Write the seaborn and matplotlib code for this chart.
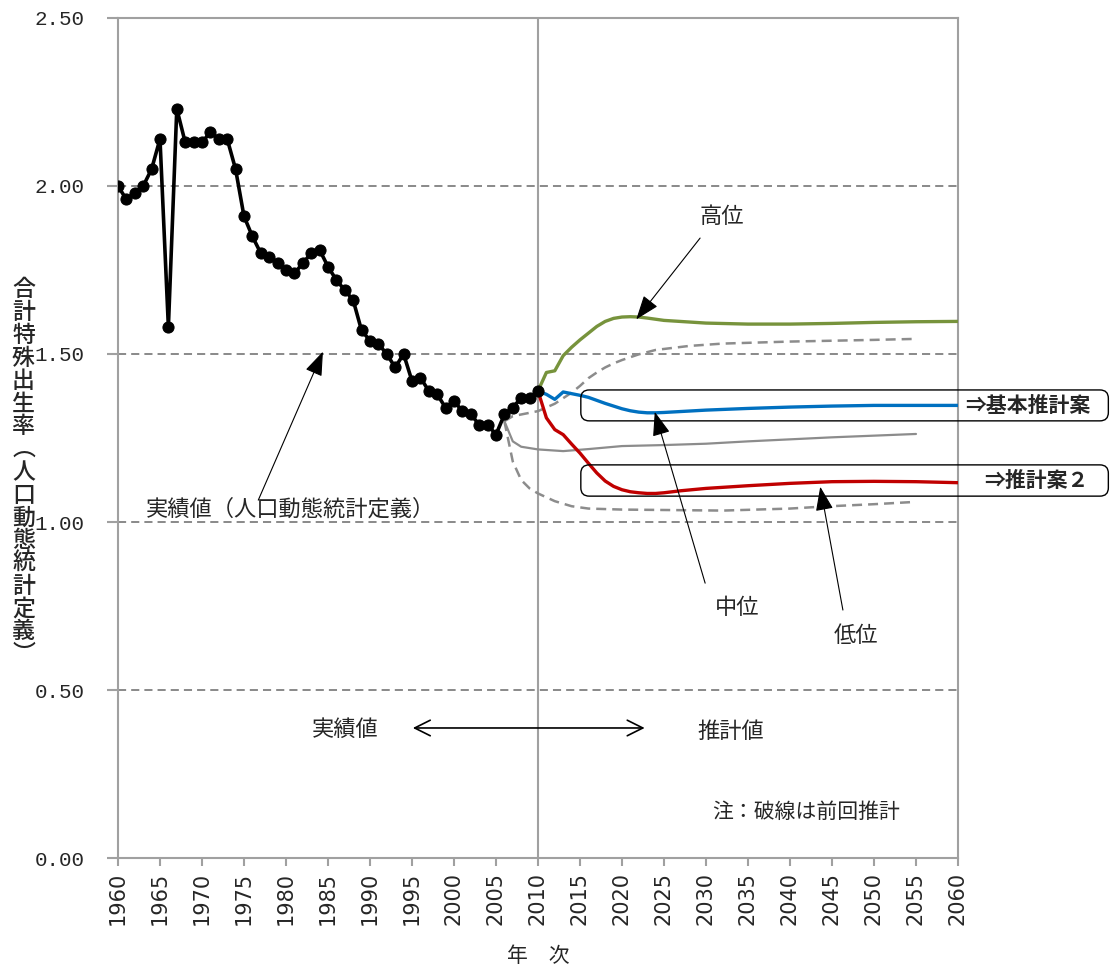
import numpy as np
import pandas as pd
import seaborn as sns
import matplotlib.pyplot as plt
from matplotlib.patches import FancyBboxPatch

# 実績値（人口動態統計定義）
act_years = list(range(1960, 2011))
act_tfr = [2.00, 1.96, 1.98, 2.00, 2.05, 2.14, 1.58, 2.23, 2.13, 2.13,
           2.13, 2.16, 2.14, 2.14, 2.05, 1.91, 1.85, 1.80, 1.79, 1.77,
           1.75, 1.74, 1.77, 1.80, 1.81, 1.76, 1.72, 1.69, 1.66, 1.57,
           1.54, 1.53, 1.50, 1.46, 1.50, 1.42, 1.43, 1.39, 1.38, 1.34,
           1.36, 1.33, 1.32, 1.29, 1.29, 1.26, 1.32, 1.34, 1.37, 1.37, 1.39]

# 今回推計
high_years = [2010, 2011, 2012, 2013, 2014, 2015, 2016, 2017, 2018, 2019,
              2020, 2021, 2022, 2023, 2025, 2030, 2035, 2040, 2045, 2050, 2055, 2060]
high_tfr = [1.39, 1.445, 1.45, 1.495, 1.52, 1.542, 1.562, 1.582, 1.597, 1.606,
            1.61, 1.611, 1.61, 1.607, 1.60, 1.592, 1.589, 1.589, 1.591, 1.594, 1.596, 1.597]
mid_years = [2010, 2011, 2012, 2013, 2014, 2015, 2016, 2017, 2018, 2019,
             2020, 2021, 2022, 2023, 2024, 2025, 2030, 2035, 2040, 2045, 2050, 2055, 2060]
mid_tfr = [1.39, 1.38, 1.365, 1.387, 1.382, 1.377, 1.371, 1.362, 1.353, 1.345,
           1.337, 1.331, 1.327, 1.325, 1.325, 1.326, 1.333, 1.338, 1.342, 1.345, 1.347, 1.347, 1.347]
low_years = [2010, 2011, 2012, 2013, 2014, 2015, 2016, 2017, 2018, 2019,
             2020, 2021, 2022, 2023, 2024, 2025, 2027, 2030, 2035, 2040, 2045, 2050, 2055, 2060]
low_tfr = [1.39, 1.31, 1.275, 1.26, 1.232, 1.205, 1.175, 1.146, 1.122, 1.106,
           1.096, 1.090, 1.087, 1.085, 1.085, 1.087, 1.093, 1.100, 1.108, 1.115, 1.12, 1.121, 1.12, 1.117]

# 前回推計（破線・細線）
prev_mid_years = [2006, 2007, 2008, 2010, 2013, 2016, 2020, 2025, 2030, 2035,
                  2040, 2045, 2050, 2055]
prev_mid_tfr = [1.30, 1.24, 1.224, 1.216, 1.211, 1.217, 1.226, 1.229, 1.233, 1.240,
                1.246, 1.252, 1.257, 1.262]
prev_high_years = [2006, 2007, 2010, 2012, 2014, 2015, 2016, 2017, 2018, 2019,
                   2020, 2022, 2024, 2028, 2032, 2040, 2044, 2050, 2055]
prev_high_tfr = [1.30, 1.315, 1.33, 1.352, 1.385, 1.405, 1.428, 1.445, 1.46, 1.472,
                 1.482, 1.499, 1.512, 1.524, 1.531, 1.537, 1.539, 1.542, 1.545]
prev_low_years = [2006, 2007, 2008, 2009, 2010, 2012, 2014, 2016, 2020, 2024,
                  2032, 2040, 2044, 2050, 2055]
prev_low_tfr = [1.30, 1.18, 1.125, 1.10, 1.085, 1.062, 1.047, 1.040, 1.037, 1.036,
                1.034, 1.040, 1.046, 1.053, 1.06]

base_year = 2010
x_ticks = list(range(1960, 2061, 5))
y_ticks = [0.0, 0.5, 1.0, 1.5, 2.0, 2.5]
ylabel_chars = list('合計特殊出生率') + ['︵'] + list('人口動態統計定義') + ['︶']

sns.set_theme(style='white')
plt.rcParams['font.family'] = ['Noto Sans CJK JP', 'DejaVu Sans']

fig = plt.figure(figsize=(11.12, 9.67), dpi=100)
ax = fig.add_axes([0.1061, 0.1127, 0.7554, 0.8687])

ax.axvline(base_year, color='#a0a0a0', lw=1.5, zorder=1)

grey = '#8c8c8c'
dash = (0, (4, 2.4))
sns.lineplot(x=prev_high_years, y=prev_high_tfr, color=grey, lw=1.8, linestyle=dash, ax=ax, zorder=2)
sns.lineplot(x=prev_low_years, y=prev_low_tfr, color=grey, lw=1.8, linestyle=dash, ax=ax, zorder=2)
sns.lineplot(x=prev_mid_years, y=prev_mid_tfr, color=grey, lw=1.6, ax=ax, zorder=2)

sns.lineplot(x=high_years, y=high_tfr, color='#77933c', lw=2.4, ax=ax, zorder=3)
sns.lineplot(x=mid_years, y=mid_tfr, color='#0070c0', lw=2.4, ax=ax, zorder=3)
sns.lineplot(x=low_years, y=low_tfr, color='#c00000', lw=2.4, ax=ax, zorder=3)

df_act = pd.DataFrame({'year': act_years, 'tfr': act_tfr})
sns.lineplot(data=df_act, x='year', y='tfr', color='black', lw=2.6, marker='o',
             markersize=8, markeredgecolor='black', ax=ax, zorder=5)

ax.set_xlim(1960, 2060)
ax.set_ylim(0, 2.5)
ax.set_xticks(x_ticks)
ax.set_xticklabels([str(y) for y in x_ticks], rotation=90, family='DejaVu Sans', fontsize=15)
ax.set_yticks(y_ticks)
ax.set_yticklabels([f'{v:.2f}' for v in y_ticks], family='Liberation Mono', fontsize=15)
ax.tick_params(axis='y', left=True, direction='out', length=8, width=1.5, color='#a0a0a0', pad=16)
ax.tick_params(axis='x', bottom=True, direction='out', length=6, width=1.5, color='#a0a0a0', pad=4)
ax.set_xlabel('年　次', fontsize=15, labelpad=14)
ax.set_ylabel('')
for s in ax.spines.values():
    s.set_color('#a0a0a0')
    s.set_linewidth(1.5)
ax.set_axisbelow(True)
ax.grid(axis='y', linestyle=(0, (4.5, 2.8)), color='#808080', lw=1.3)
ax.grid(axis='x', visible=False)

# 縦書きの軸ラベル
for i, ch in enumerate(ylabel_chars):
    fig.text(0.0211, 1 - (290 + i * 22.8) / 967, ch, ha='center', va='center',
             fontsize=16.5, fontweight='medium')

# 注記と矢印
head = '-|>,head_length=0.6,head_width=0.22'
ax.text(2031.9, 1.908, '高位', fontsize=16, ha='center', va='center')
ax.annotate('', xy=(2021.7, 1.603), xytext=(2029.3, 1.845),
            arrowprops=dict(arrowstyle=head, color='black', lw=0.8, mutation_scale=25, shrinkA=0, shrinkB=0))
ax.text(1980.5, 1.039, '実績値（人口動態統計定義）', fontsize=16, ha='center', va='center')
ax.annotate('', xy=(1984.4, 1.507), xytext=(1976.7, 1.065),
            arrowprops=dict(arrowstyle=head, color='black', lw=0.8, mutation_scale=25, shrinkA=0, shrinkB=0))
ax.text(2033.7, 0.747, '中位', fontsize=16, ha='center', va='center')
ax.annotate('', xy=(2023.9, 1.328), xytext=(2029.9, 0.818),
            arrowprops=dict(arrowstyle=head, color='black', lw=0.8, mutation_scale=25, shrinkA=0, shrinkB=0))
ax.text(2047.9, 0.661, '低位', fontsize=16, ha='center', va='center')
ax.annotate('', xy=(2043.6, 1.105), xytext=(2046.3, 0.738),
            arrowprops=dict(arrowstyle=head, color='black', lw=0.8, mutation_scale=25, shrinkA=0, shrinkB=0))

ax.text(1987.1, 0.384, '実績値', fontsize=16, ha='center', va='center')
ax.text(2032.9, 0.378, '推計値', fontsize=16, ha='center', va='center')
ax.annotate('', xy=(2022.7, 0.387), xytext=(1995.1, 0.387),
            arrowprops=dict(arrowstyle='<->,head_length=0.8,head_width=0.4', color='black', lw=1.2,
                            mutation_scale=14, shrinkA=0, shrinkB=0))
ax.text(2041.9, 0.137, '注：破線は前回推計', fontsize=15, ha='center', va='center')

# 推計案の枠
for y0, y1, label, xc in [(1.301, 1.393, '⇒基本推計案', 2068.3), (1.077, 1.170, '⇒推計案２', 2069.3)]:
    box = FancyBboxPatch((2015.1, y0), 62.8, y1 - y0, boxstyle='round,pad=0,rounding_size=1.0',
                         mutation_aspect=0.025, fc='none', ec='black', lw=1.0, clip_on=False, zorder=4)
    ax.add_patch(box)
    ax.text(xc, (y0 + y1) / 2, label, fontsize=15, fontweight='bold', ha='center', va='center',
            family=['Noto Sans CJK JP', 'DejaVu Sans'], zorder=6)

fig.savefig('out.png', dpi=100)
